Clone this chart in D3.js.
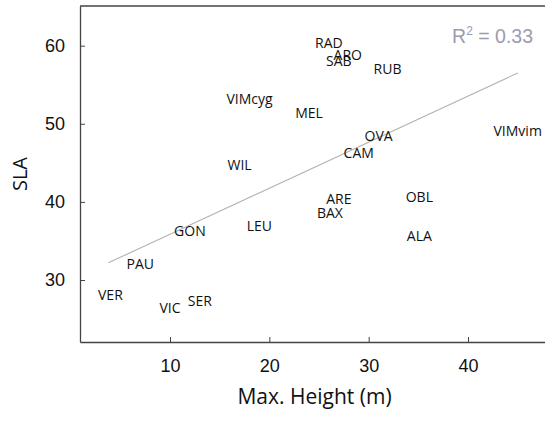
<!DOCTYPE html>
<html>
<head>
<meta charset="utf-8">
<script src="https://cdn.jsdelivr.net/npm/d3@7"></script>
<style>
  html, body { margin: 0; padding: 0; background: #fff; }
  svg { display: block; }
</style>
</head>
<body>
<svg id="chart" width="545" height="423"></svg>
<script>
// ---- data ----
const species = ["RAD","ARO","SAB","RUB","VIMcyg","MEL","OVA","CAM","VIMvim","WIL",
                 "ARE","BAX","OBL","ALA","GON","LEU","PAU","VER","VIC","SER"];
const maxHeight = [26.0, 27.9, 27.0, 31.9, 18.0, 24.0, 31.0, 29.0, 45.0, 17.0,
                   27.0, 26.1, 35.1, 35.1, 12.0, 19.0, 7.0, 4.0, 10.0, 13.0];
const sla = [60.4, 58.8, 58.0, 57.0, 53.2, 51.4, 48.4, 46.3, 49.1, 44.7,
             40.4, 38.6, 40.6, 35.6, 36.3, 36.9, 32.1, 28.1, 26.4, 27.3];
const trendX = [3.8, 45.0];
const trendY = [32.2, 56.5];
const xTicks = [10, 20, 30, 40];
const yTicks = [30, 40, 50, 60];
const rSquared = "0.33";

// ---- layout ----
const svg = d3.select("#chart");
const mLeft = 80, mRight = 545, mTop = 6, mBottom = 342;

const x = d3.scaleLinear().domain([0.94, 47.75]).range([mLeft, mRight]);
const y = d3.scaleLinear().domain([22.06, 65.08]).range([mBottom, mTop]);

const axisColor = "#444";

// top border
svg.append("line")
  .attr("x1", mLeft).attr("x2", mRight)
  .attr("y1", mTop).attr("y2", mTop)
  .attr("stroke", axisColor).attr("stroke-width", 1.3);

// x axis
const gx = svg.append("g").attr("transform", `translate(0,${mBottom})`)
  .call(d3.axisBottom(x).tickValues(xTicks).tickSizeInner(-5).tickSizeOuter(0).tickPadding(17));
gx.select(".domain").attr("stroke", axisColor).attr("stroke-width", 1.3);
gx.selectAll(".tick line").attr("stroke", axisColor).attr("stroke-width", 1);
gx.selectAll(".tick text")
  .attr("font-family", "Liberation Sans, Arial, sans-serif")
  .attr("font-size", 18).attr("fill", "#111");

// y axis
const gy = svg.append("g").attr("transform", `translate(${mLeft},0)`)
  .call(d3.axisLeft(y).tickValues(yTicks).tickSizeInner(-5).tickSizeOuter(0).tickPadding(15));
gy.select(".domain").attr("stroke", axisColor).attr("stroke-width", 1.3);
gy.selectAll(".tick line").attr("stroke", axisColor).attr("stroke-width", 1);
gy.selectAll(".tick text")
  .attr("font-family", "Liberation Sans, Arial, sans-serif")
  .attr("font-size", 18).attr("fill", "#111");

// axis titles
svg.append("text")
  .attr("x", (mLeft + mRight) / 2 + 2).attr("y", 404)
  .attr("text-anchor", "middle")
  .attr("font-family", "Open Sans, sans-serif").attr("font-size", 21).attr("fill", "#111")
  .text("Max. Height (m)");

svg.append("text")
  .attr("transform", `translate(27,${(mTop + mBottom) / 2}) rotate(-90)`)
  .attr("text-anchor", "middle")
  .attr("font-family", "Open Sans, sans-serif").attr("font-size", 20).attr("fill", "#111")
  .text("SLA");

// trend line
svg.append("line")
  .attr("x1", x(trendX[0])).attr("y1", y(trendY[0]))
  .attr("x2", x(trendX[1])).attr("y2", y(trendY[1]))
  .attr("stroke", "#b3b3aa").attr("stroke-width", 1.1);

// labels
svg.append("g").selectAll("text")
  .data(species.map((s, i) => ({ s, h: maxHeight[i], v: sla[i] })))
  .join("text")
  .attr("x", d => x(d.h))
  .attr("y", d => y(d.v))
  .attr("dy", "0.36em")
  .attr("text-anchor", "middle")
  .attr("font-family", "Open Sans, sans-serif")
  .attr("font-size", 14)
  .attr("fill", "#111")
  .text(d => d.s);

// R^2 annotation
const r = svg.append("text")
  .attr("x", 533).attr("y", 43)
  .attr("text-anchor", "end")
  .attr("font-family", "Liberation Sans, Arial, sans-serif")
  .attr("font-size", 19.5).attr("fill", "#9a9cb2");
r.append("tspan").text("R");
r.append("tspan").attr("dy", -8).attr("font-size", 12).text("2");
r.append("tspan").attr("dy", 8).text(" = " + rSquared);
</script>
</body>
</html>
